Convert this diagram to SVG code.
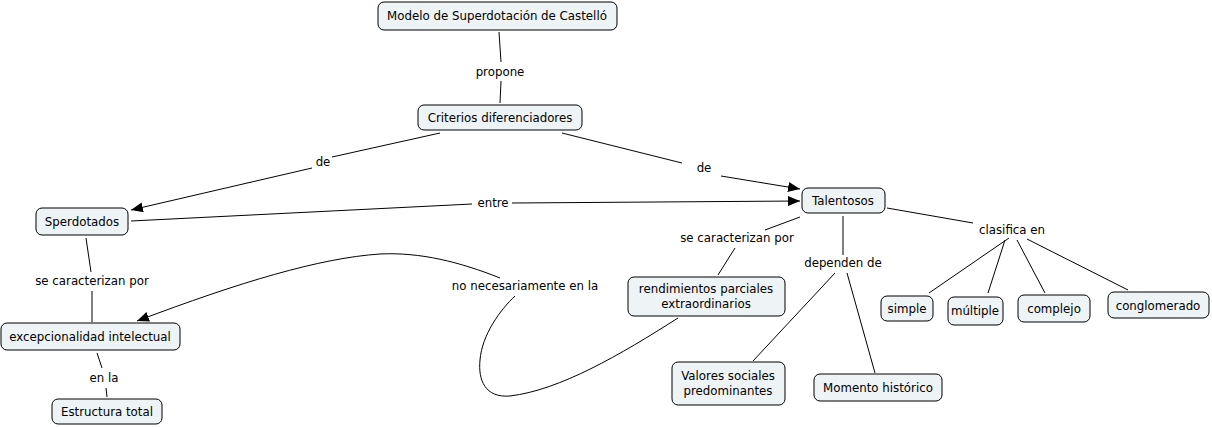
<svg xmlns="http://www.w3.org/2000/svg" width="1212" height="427" viewBox="0 0 1212 427">
<defs>
<marker id="arr" viewBox="0 0 12 10" refX="12" refY="5" markerWidth="12" markerHeight="10" markerUnits="userSpaceOnUse" orient="auto">
<path d="M0,0 L12,5 L0,10 Z" fill="#000"/>
</marker>
</defs>
<style>
.n rect{fill:#eef3f5;stroke:#000;stroke-width:1;}
text{font-family:"DejaVu Sans",Verdana,sans-serif;font-size:11.8px;fill:#000;text-anchor:middle;}
.c line,.c path,.c polyline{stroke:#000;stroke-width:1;fill:none;}
</style>
<rect width="1212" height="427" fill="#fff"/>
<g class="c" id="connectors">
<line x1="499" y1="32" x2="501" y2="62"/>
<line x1="501" y1="81" x2="500" y2="103"/>
<line x1="440" y1="133" x2="332" y2="157"/>
<line x1="312" y1="168" x2="131" y2="210" marker-end="url(#arr)"/>
<line x1="562" y1="133" x2="682" y2="163"/>
<line x1="721" y1="176" x2="800" y2="189" marker-end="url(#arr)"/>
<line x1="131" y1="221" x2="472" y2="204"/>
<line x1="512" y1="203" x2="800" y2="201" marker-end="url(#arr)"/>
<line x1="86" y1="238" x2="91" y2="272"/>
<line x1="92" y1="291" x2="92" y2="322"/>
<line x1="97" y1="353" x2="102" y2="368"/>
<line x1="106" y1="388" x2="107" y2="397"/>
<path d="M678,318 C620,355 560,390 510,396 C485,398 478,380 480,360 C482,335 500,310 515,296"/>
<path d="M500,278 C460,262 420,252 380,254 C320,258 240,282 137,321" marker-end="url(#arr)"/>
<line x1="800" y1="217" x2="765" y2="230"/>
<line x1="735" y1="248" x2="718" y2="275"/>
<line x1="843" y1="216" x2="843" y2="255"/>
<line x1="835" y1="273" x2="753" y2="361"/>
<line x1="847" y1="273" x2="875" y2="373"/>
<line x1="887" y1="208" x2="973" y2="223"/>
<line x1="1009" y1="238" x2="929" y2="293"/>
<line x1="1005" y1="240" x2="988" y2="293"/>
<line x1="1017" y1="240" x2="1045" y2="293"/>
<line x1="1027" y1="239" x2="1128" y2="290"/>
</g>
<g id="labels">
<text x="500" y="76">propone</text>
<text x="323" y="166">de</text>
<text x="704" y="172">de</text>
<text x="493" y="207">entre</text>
<text x="92" y="285">se caracterizan por</text>
<text x="104" y="382">en la</text>
<text x="525" y="290">no necesariamente en la</text>
<text x="737" y="242">se caracterizan por</text>
<text x="843" y="267">dependen de</text>
<text x="1012" y="234">clasifica en</text>
</g>
<g class="n" id="n-modelo"><rect x="378" y="2" width="239" height="28" rx="6"/><text x="497" y="20">Modelo de Superdotación de Castelló</text></g>
<g class="n" id="n-criterios"><rect x="418" y="105" width="164" height="25" rx="6"/><text x="500" y="122">Criterios diferenciadores</text></g>
<g class="n" id="n-sperdotados"><rect x="36" y="208" width="92" height="27" rx="6"/><text x="82" y="226">Sperdotados</text></g>
<g class="n" id="n-talentosos"><rect x="802" y="188" width="83" height="25" rx="6"/><text x="843" y="205">Talentosos</text></g>
<g class="n" id="n-excep"><rect x="1" y="323" width="179" height="27" rx="6"/><text x="90" y="341">excepcionalidad intelectual</text></g>
<g class="n" id="n-estructura"><rect x="52" y="399" width="110" height="25" rx="6"/><text x="107" y="416">Estructura total</text></g>
<g class="n" id="n-rend"><rect x="628" y="277" width="157" height="39" rx="6"/><text x="706" y="293">rendimientos parciales</text><text x="706" y="308">extraordinarios</text></g>
<g class="n" id="n-valores"><rect x="672" y="362" width="113" height="43" rx="6"/><text x="728" y="380">Valores sociales</text><text x="728" y="395">predominantes</text></g>
<g class="n" id="n-momento"><rect x="814" y="374" width="128" height="27" rx="6"/><text x="878" y="392">Momento histórico</text></g>
<g class="n" id="n-simple"><rect x="881" y="296" width="52" height="25" rx="6"/><text x="907" y="313">simple</text></g>
<g class="n" id="n-multiple"><rect x="948" y="297" width="55" height="28" rx="6"/><text x="975" y="315">múltiple</text></g>
<g class="n" id="n-complejo"><rect x="1018" y="295" width="72" height="27" rx="6"/><text x="1054" y="313">complejo</text></g>
<g class="n" id="n-conglomerado"><rect x="1108" y="292" width="101" height="26" rx="6"/><text x="1158" y="310">conglomerado</text></g>
</svg>
